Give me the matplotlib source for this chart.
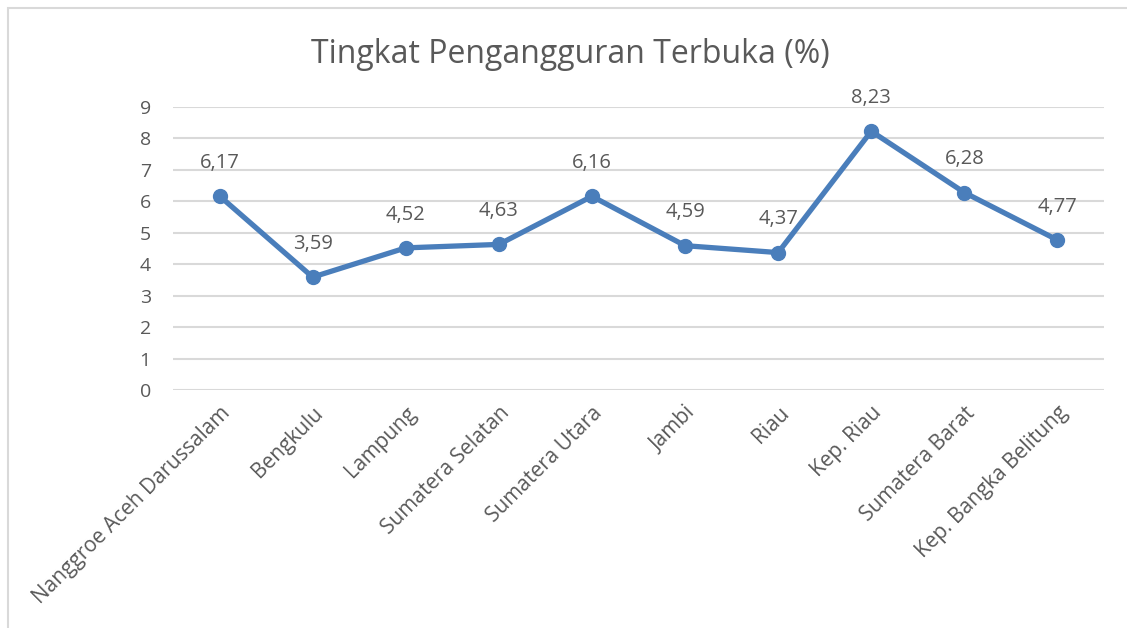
import matplotlib.pyplot as plt
from matplotlib.patches import Rectangle

provinces = [
    "Nanggroe Aceh Darussalam", "Bengkulu", "Lampung", "Sumatera Selatan",
    "Sumatera Utara", "Jambi", "Riau", "Kep. Riau", "Sumatera Barat",
    "Kep. Bangka Belitung",
]
rates = [6.17, 3.59, 4.52, 4.63, 6.16, 4.59, 4.37, 8.23, 6.28, 4.77]
yticks = list(range(0, 10))

plt.rcParams["font.family"] = ["Open Sans", "DejaVu Sans"]
text_color = "#595959"
line_color = "#4A7EBB"

fig = plt.figure(figsize=(11.27, 6.28), dpi=100)
ax = fig.add_axes([0.1535, 0.379, 0.8261, 0.4506])

# outer chart border (only left/top visible in the crop)
fig.add_artist(Rectangle((8 / 1127, -0.1), 1.2, 1 - 8 / 628 + 0.1,
                         transform=fig.transFigure, fill=False,
                         edgecolor="#D9D9D9", linewidth=1.5))

x = list(range(len(provinces)))
ax.plot(x, rates, color=line_color, linewidth=3.8, marker="o",
        markersize=10, zorder=3)

for xi, v in zip(x, rates):
    ax.annotate(f"{v:.2f}".replace(".", ","), (xi, v), xytext=(0, 24),
                textcoords="offset points", ha="center", va="center",
                fontsize=14.5, color=text_color)

ax.set_xlim(-0.5, len(provinces) - 0.5)
ax.set_ylim(0, 9)
ax.set_yticks(yticks)
ax.set_xticks(x)
ax.set_xticklabels(provinces, rotation=45, ha="right", rotation_mode="anchor",
                   fontsize=15)
ax.grid(axis="y", color="#D9D9D9", linewidth=1.5)
ax.set_axisbelow(True)
for s in ax.spines.values():
    s.set_visible(False)
ax.tick_params(length=0, colors=text_color)
ax.tick_params(axis="y", pad=16, labelsize=14)
ax.tick_params(axis="x", pad=9)

fig.text(0.506, 0.913, "Tingkat Pengangguran Terbuka (%)", ha="center",
         va="center", fontsize=23, color=text_color)

plt.savefig("out.png", dpi=100)
plt.close()
